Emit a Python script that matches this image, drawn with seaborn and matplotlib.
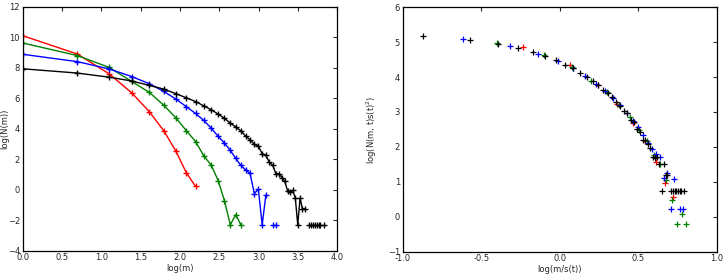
import numpy as np
import pandas as pd
import matplotlib
matplotlib.use('Agg')
import matplotlib.pyplot as plt
import seaborn as sns

# ------------------------------------------------------------ #
# data (m = cluster size, logN = ln N(m))
# ------------------------------------------------------------ #

red_m = [1, 2, 3, 4, 5, 6, 7, 8, 9]
red_logN = [10.1, 8.9, 7.6, 6.35, 5.12, 3.88, 2.55, 1.12, 0.22]

green_m = [1, 2, 3, 4, 5, 6, 7, 8, 9, 10, 11, 12, 13, 14, 15, 16]
green_logN = [9.62, 8.8, 8.02, 7.1, 6.38, 5.55, 4.72, 3.88, 3.16, 2.22, 1.6, 0.6,
              -0.72, -2.3, -1.64, -2.3]

blue_m = [1, 2, 3, 4, 5, 6, 7, 8, 9, 10, 11, 12, 13, 14, 15, 16, 17, 18, 19, 20,
          21, 22, 24, 25]
blue_logN = [8.88, 8.4, 7.92, 7.42, 6.95, 6.45, 5.95, 5.45, 5.0, 4.54, 4.03, 3.5,
             3.06, 2.58, 2.05, 1.6, 1.3, 1.07, -0.25, 0.03, -2.3, -0.36, -2.3, -2.3]
blue_seg = [0] * 22 + [1, 1]

black_m = [1, 2, 3, 4, 5, 6, 7, 8, 9, 10, 11, 12, 13, 14, 15, 16, 17, 18, 19, 20,
           21, 22, 23, 24, 25, 26, 27, 28, 29, 30, 31, 32, 33, 34, 35, 36,
           38, 39, 40, 41, 42, 43, 44, 46]
black_logN = [7.93, 7.65, 7.38, 7.13, 6.84, 6.6, 6.3, 6.03, 5.78, 5.5, 5.24, 4.96,
              4.68, 4.37, 4.12, 3.86, 3.53, 3.27, 2.98, 2.86, 2.36, 2.26, 1.8, 1.6,
              1.05, 1.04, 0.8, 0.54, -0.06, -0.12, -0.05, -0.55, -2.3, -0.55, -1.25,
              -1.25, -2.3, -2.3, -2.3, -2.3, -2.3, -2.3, -2.3, -2.3]
black_seg = [0] * 36 + [1] * 7 + [2]

# log10 of the mean size s(t) used for the collapse on the right
log_s = {'red': 0.235, 'green': 0.40, 'blue': 0.615, 'black': 0.87}

colors = {'red': 'r', 'green': 'g', 'blue': 'b', 'black': 'k'}

frames = []
for name, m, logN, seg in [('red', red_m, red_logN, [0] * len(red_m)),
                           ('green', green_m, green_logN, [0] * len(green_m)),
                           ('blue', blue_m, blue_logN, blue_seg),
                           ('black', black_m, black_logN, black_seg)]:
    d = pd.DataFrame({'m': m, 'logN': logN, 'seg': seg})
    d['series'] = name
    d['logm'] = np.log(d['m'])
    # scaling collapse: log10(m/s) and log10(N s^2)
    d['x_sc'] = np.log10(d['m']) - log_s[name]
    d['y_sc'] = d['logN'] / np.log(10) + 2 * log_s[name]
    frames.append(d)
df = pd.concat(frames, ignore_index=True)

# ------------------------------------------------------------ #
# plot
# ------------------------------------------------------------ #

sns.set_style('white')
plt.rcParams['font.family'] = ['DejaVu Sans']
plt.rcParams['font.size'] = 6
plt.rcParams['axes.edgecolor'] = 'black'
plt.rcParams['axes.linewidth'] = 0.9

fig = plt.figure(figsize=(7.25, 2.74), dpi=100)
ax1 = fig.add_axes([0.0313, 0.085, 0.434, 0.8905])
ax2 = fig.add_axes([0.5554, 0.082, 0.4332, 0.8915])

for name in ['red', 'green', 'blue', 'black']:
    sub = df[df['series'] == name]
    sns.lineplot(data=sub, x='logm', y='logN', units='seg', estimator=None,
                 sort=False, color=colors[name], marker='+', markersize=5,
                 markeredgewidth=1, markeredgecolor=colors[name],
                 linewidth=1, ax=ax1)

for name in ['red', 'green', 'blue', 'black']:
    sub = df[df['series'] == name]
    sns.scatterplot(data=sub, x='x_sc', y='y_sc', color=colors[name], marker='+',
                    s=22, linewidth=0.9, ax=ax2)

ax1.set_xlim(0, 4)
ax1.set_ylim(-4, 12)
ax1.set_xticks(np.arange(0, 4.01, 0.5))
ax1.set_yticks(np.arange(-4, 12.01, 2))
ax1.set_xticklabels(['%.1f' % v for v in np.arange(0, 4.01, 0.5)])
ax1.set_xlabel('log(m)', labelpad=1)
ax1.set_ylabel('log(N(m))')
ax1.yaxis.set_label_coords(-0.043, 0.5)

ax2.set_xlim(-1, 1)
ax2.set_ylim(-1, 6)
ax2.set_xticks(np.arange(-1, 1.01, 0.5))
ax2.set_yticks(np.arange(-1, 6.01, 1))
ax2.set_xticklabels(['%.1f' % v for v in np.arange(-1, 1.01, 0.5)])
ax2.set_xlabel('log(m/s(t))', labelpad=1)
ax2.set_ylabel('log(N(m, t)s(t)$^2$)', labelpad=6)

for ax in [ax1, ax2]:
    ax.tick_params(direction='in', top=True, right=True, length=3, width=0.8,
                   labelsize=6, pad=2)

fig.savefig('out.png', dpi=100)
